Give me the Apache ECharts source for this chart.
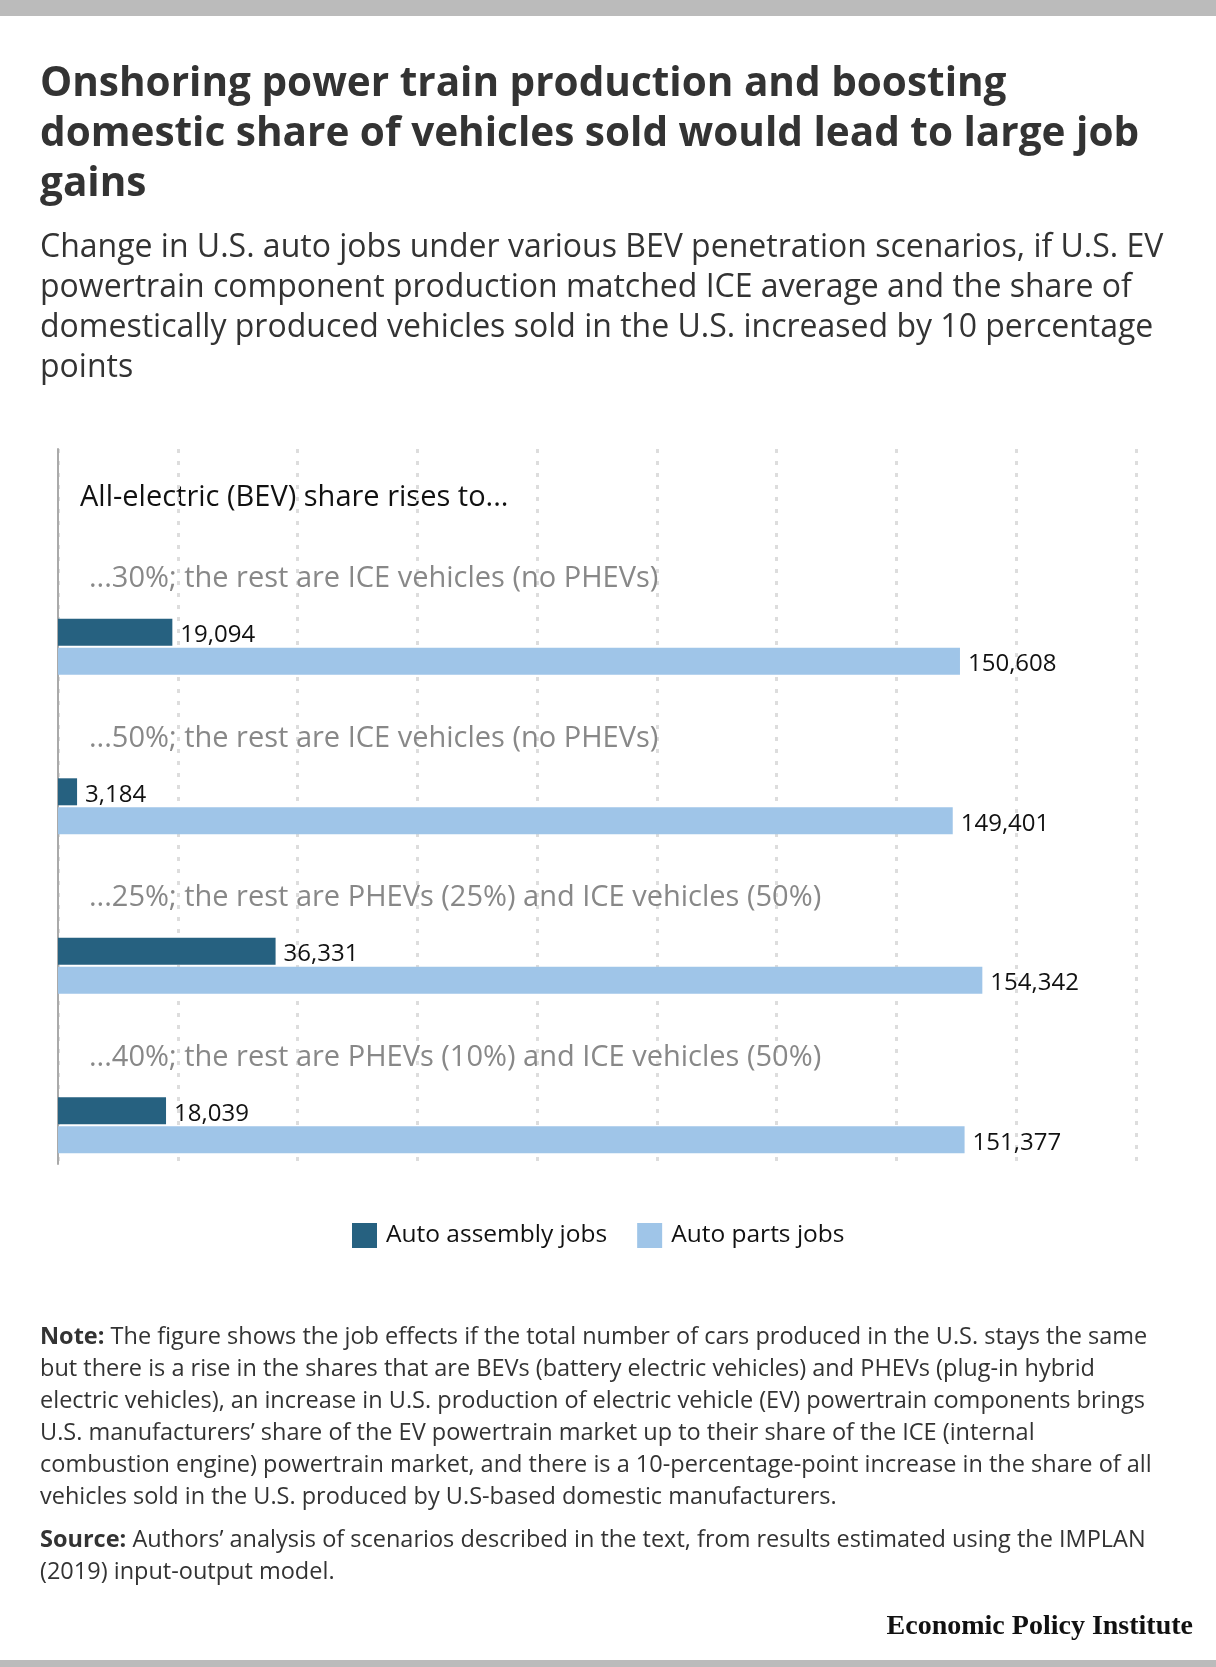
<!DOCTYPE html>
<html>
<head>
<meta charset="utf-8">
<script src="https://cdn.jsdelivr.net/npm/echarts@6/dist/echarts.min.js"></script>
<style>
html,body{margin:0;padding:0;background:#fff;}
#chart{width:1216px;height:1667px;}
</style>
</head>
<body>
<div id="chart"></div>
<script>
const categories = [
  '...30%; the rest are ICE vehicles (no PHEVs)',
  '...50%; the rest are ICE vehicles (no PHEVs)',
  '...25%; the rest are PHEVs (25%) and ICE vehicles (50%)',
  '...40%; the rest are PHEVs (10%) and ICE vehicles (50%)'
];
const seriesNames = ['Auto assembly jobs', 'Auto parts jobs'];
const assemblyJobs = [19094, 3184, 36331, 18039];
const partsJobs = [150608, 149401, 154342, 151377];
const xMin = 0, xMax = 180000, xInterval = 20000;

const titleText = 'Onshoring power train production and boosting\ndomestic share of vehicles sold would lead to large job\ngains';
const subtitleText = 'Change in U.S. auto jobs under various BEV penetration scenarios, if U.S. EV\npowertrain component production matched ICE average and the share of\ndomestically produced vehicles sold in the U.S. increased by 10 percentage\npoints';
const headerText = 'All-electric (BEV) share rises to...';
const noteText = '{b|Note:} The figure shows the job effects if the total number of cars produced in the U.S. stays the same\nbut there is a rise in the shares that are BEVs (battery electric vehicles) and PHEVs (plug-in hybrid\nelectric vehicles), an increase in U.S. production of electric vehicle (EV) powertrain components brings\nU.S. manufacturers\u2019 share of the EV powertrain market up to their share of the ICE (internal\ncombustion engine) powertrain market, and there is a 10-percentage-point increase in the share of all\nvehicles sold in the U.S. produced by U.S-based domestic manufacturers.';
const sourceText = '{b|Source:} Authors\u2019 analysis of scenarios described in the text, from results estimated using the IMPLAN\n(2019) input-output model.';
const logoText = 'Economic Policy Institute';

const FONT = '"Open Sans", sans-serif';
const DARK = '#266180', LIGHT = '#9fc5e8';

const chart = echarts.init(document.getElementById('chart'), null, {renderer: 'canvas'});
const fmt = v => Number(v).toLocaleString('en-US');

chart.setOption({
  backgroundColor: '#ffffff',
  animation: false,
  textStyle: {fontFamily: FONT},
  grid: [
    {left: 58, right: 80, top: 449, bottom: 503, containLabel: false},
    {left: 58, right: 80, top: 567, bottom: 462, containLabel: false}
  ],
  xAxis: [
    {gridIndex: 0, type: 'value', min: xMin, max: xMax, interval: xInterval,
     axisLabel: {show: false}, axisTick: {show: false}, axisLine: {show: false},
     splitLine: {show: true, lineStyle: {color: '#dddddd', width: 3, type: [4, 8]}}},
    {gridIndex: 1, type: 'value', min: xMin, max: xMax, interval: xInterval,
     axisLabel: {show: false}, axisTick: {show: false}, axisLine: {show: false},
     splitLine: {show: false}}
  ],
  yAxis: [
    {gridIndex: 0, type: 'category', data: [''], axisTick: {show: false},
     axisLabel: {show: false}, axisLine: {show: true, lineStyle: {color: '#aaaaaa', width: 2}}},
    {gridIndex: 1, type: 'category', data: categories, inverse: true,
     axisTick: {show: false}, axisLine: {show: false},
     axisLabel: {inside: true, interval: 0, margin: 31, verticalAlign: 'middle',
       formatter: v => '{t|' + v + '}\n{g| }',
       rich: {
         t: {color: '#888888', fontSize: 29, lineHeight: 36, fontFamily: FONT},
         g: {fontSize: 10, lineHeight: 136}
       }}}
  ],
  legend: {
    left: 352, top: 1223, padding: 0, itemWidth: 25, itemHeight: 25, itemGap: 30,
    icon: 'rect', data: seriesNames,
    textStyle: {fontSize: 24.5, color: '#111111', fontFamily: FONT, padding: [0, 0, 0, 4]}
  },
  series: [
    {type: 'bar', name: 'grid-frame', xAxisIndex: 0, yAxisIndex: 0, data: [], silent: true},
    {type: 'bar', name: seriesNames[0], xAxisIndex: 1, yAxisIndex: 1, data: assemblyJobs,
     barWidth: 27, barGap: '7%', itemStyle: {color: DARK},
     label: {show: true, position: 'right', distance: 8, color: '#111111', fontSize: 24,
       fontFamily: FONT, offset: [0, 3], formatter: p => fmt(p.value)}},
    {type: 'bar', name: seriesNames[1], xAxisIndex: 1, yAxisIndex: 1, data: partsJobs,
     barWidth: 27, barGap: '7%', itemStyle: {color: LIGHT},
     label: {show: true, position: 'right', distance: 8, color: '#111111', fontSize: 24,
       fontFamily: FONT, offset: [0, 3], formatter: p => fmt(p.value)}}
  ],
  graphic: [
    {type: 'rect', left: 0, top: 0, shape: {width: 1216, height: 16}, style: {fill: '#bbbbbb'}},
    {type: 'rect', left: 0, top: 1660, shape: {width: 1216, height: 7}, style: {fill: '#bbbbbb'}},
    {type: 'text', left: 40, top: 59, style: {text: titleText, fontFamily: FONT, fontWeight: 'bold',
      fontSize: 40.5, lineHeight: 50, fill: '#333333'}},
    {type: 'text', left: 40, top: 228, style: {text: subtitleText, fontFamily: FONT,
      fontSize: 32, lineHeight: 40, fill: '#333333'}},
    {type: 'text', left: 80, top: 480, style: {text: headerText, fontFamily: FONT,
      fontSize: 29, lineHeight: 36, fill: '#111111'}},
    {type: 'text', left: 40, top: 1321, style: {text: noteText, fontFamily: FONT,
      fontSize: 23.5, lineHeight: 32, fill: '#333333',
      rich: {b: {fontWeight: 'bold', fontFamily: FONT, fontSize: 23.5, lineHeight: 32, fill: '#333333'}}}},
    {type: 'text', left: 40, top: 1524, style: {text: sourceText, fontFamily: FONT,
      fontSize: 23.5, lineHeight: 32, fill: '#333333',
      rich: {b: {fontWeight: 'bold', fontFamily: FONT, fontSize: 23.5, lineHeight: 32, fill: '#333333'}}}},
    {type: 'text', right: 23, top: 1613, style: {text: logoText, fontFamily: '"Liberation Serif", serif',
      fontWeight: 'bold', fontSize: 28, fill: '#111111'}}
  ]
});
</script>
</body>
</html>
